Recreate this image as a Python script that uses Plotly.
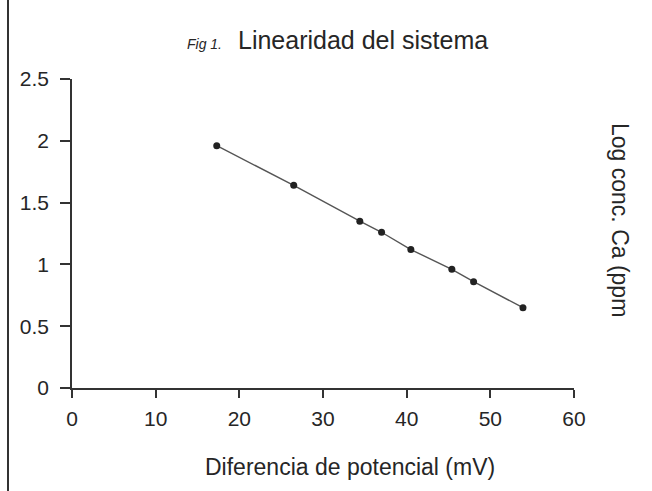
import plotly.graph_objects as go

# Data
potencial_mV = [17.3, 26.5, 34.4, 37.0, 40.5, 45.4, 48.0, 53.9]
log_conc_ca = [1.96, 1.64, 1.35, 1.26, 1.12, 0.96, 0.86, 0.65]

x_ticks = [0, 10, 20, 30, 40, 50, 60]
y_ticks = [0, 0.5, 1, 1.5, 2, 2.5]
y_tick_labels = ["0", "0.5", "1", "1.5", "2", "2.5"]

FONT = "Liberation Sans, Arial, sans-serif"
INK = "#262626"

W, H = 652, 491
L, R, T, B = 72, 78, 79, 103
PW, PH = W - L - R, H - T - B


def px(x):
    return (x - L) / PW


def py(y):
    return (H - B - y) / PH


fig = go.Figure()
fig.add_trace(go.Scatter(
    x=potencial_mV, y=log_conc_ca,
    mode="lines+markers",
    line=dict(color="#555555", width=1.4),
    marker=dict(color="#222222", size=7),
    showlegend=False,
    cliponaxis=False,
))

fig.update_layout(
    width=W, height=H,
    margin=dict(l=L, r=R, t=T, b=B),
    paper_bgcolor="white", plot_bgcolor="white",
    font=dict(family=FONT, color=INK, size=20),
    xaxis=dict(
        range=[0, 60], tickvals=x_ticks, ticktext=[str(v) for v in x_ticks],
        showline=True, linecolor="#333333", linewidth=1.5,
        ticks="outside", ticklen=8, tickwidth=1.5, tickcolor="#333333",
        showgrid=False, zeroline=False, ticklabelstandoff=3,
        tickfont=dict(size=21, family=FONT, color=INK),
    ),
    yaxis=dict(
        range=[0, 2.5], tickvals=y_ticks, ticktext=y_tick_labels,
        showline=True, linecolor="#333333", linewidth=1.5,
        ticks="outside", ticklen=10, tickwidth=1.5, tickcolor="#333333",
        showgrid=False, zeroline=False, ticklabelstandoff=7,
        tickfont=dict(size=21, family=FONT, color=INK),
    ),
)

annotations = [
    dict(text="<i>Fig 1.</i>", x=px(185), y=py(44), xref="paper", yref="paper",
         xanchor="left", yanchor="middle", showarrow=False,
         font=dict(size=14, family=FONT, color=INK)),
    dict(text="Linearidad del sistema", x=px(236), y=py(40), xref="paper", yref="paper",
         xanchor="left", yanchor="middle", showarrow=False,
         font=dict(size=25, family=FONT, color=INK)),
    dict(text="Diferencia de potencial (mV)", x=px(350), y=py(467), xref="paper", yref="paper",
         xanchor="center", yanchor="middle", showarrow=False,
         font=dict(size=23, family=FONT, color=INK)),
    dict(text="Log conc. Ca (ppm", x=px(620), y=py(121), xref="paper", yref="paper",
         xanchor="center", yanchor="top", textangle=90, showarrow=False,
         font=dict(size=23, family=FONT, color=INK)),
]
fig.update_layout(annotations=annotations)

# scanned page border on the left
fig.add_shape(type="line", xref="paper", yref="paper",
              x0=px(8), x1=px(8), y0=py(0), y1=py(H),
              line=dict(color="#333333", width=2))

fig.write_html("out.html")
